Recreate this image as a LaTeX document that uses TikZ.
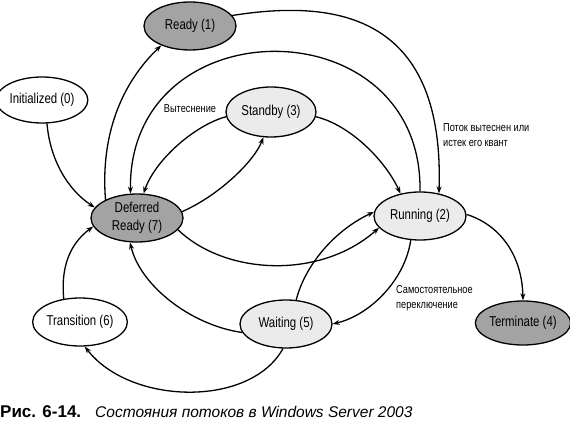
\documentclass[tikz,border=0pt]{standalone}
\usepackage{fontspec}
\setmainfont{Liberation Sans}
\newfontfamily\nar[FakeStretch=0.8]{Liberation Sans}
\usetikzlibrary{shapes.geometric,arrows.meta}
\definecolor{darkfill}{gray}{0.64}
\definecolor{lightfill}{gray}{0.92}
\tikzset{
  st/.style={ellipse,draw=black,line width=1.3pt,inner sep=0pt,minimum width=92pt,minimum height=48pt,font=\nar\fontsize{14.3pt}{18pt}\selectfont,align=center},
  dk/.style={st,fill=darkfill},
  lt/.style={st,fill=lightfill},
  wh/.style={st,fill=white},
  arr/.style={line width=1.3pt,-{Stealth[length=7pt,width=5pt]}},
  lbl/.style={font=\nar\fontsize{11.5pt}{14.5pt}\selectfont,align=left,inner sep=0pt}
}
\begin{document}
\begin{tikzpicture}[x=1pt,y=-1pt]
\useasboundingbox (0,0) rectangle (570,430);
% nodes
\node[wh,minimum width=82pt,minimum height=46pt] (I) at (42,100) {Initialized (0)};
\node[dk,minimum height=48pt] (R1) at (190,26) {Ready (1)};
\node[lt,minimum width=90pt,minimum height=50pt] (S) at (271,112) {Standby (3)};
\node[dk] (D) at (137,218) {Deferred\\Ready (7)};
\node[lt] (Rn) at (420,216) {Running (2)};
\node[wh] (T) at (80,322) {Transition (6)};
\node[lt] (W) at (286,324) {Waiting (5)};
\node[dk,minimum height=44pt] (Tm) at (523,323) {Terminate (4)};
% connectors
\draw[arr] (I.282) .. controls (50,160) and (68,190) .. (D.166);
\draw[arr] (D.150) .. controls (100,130) and (125,80) .. (R1.214);
\draw[arr] (R1.14) .. controls (330,0) and (445,10) .. (Rn.50);
\draw[arr] (Rn.90) .. controls (423,5) and (128,5) .. (D.105);
\draw[arr] (S.186) .. controls (195,125) and (155,160) .. (D.75);
\draw[arr] (D.8) .. controls (220,195) and (255,160) .. (S.253);
\draw[arr] (S.354) .. controls (350,125) and (385,160) .. (Rn.131);
\draw[arr] (D.344) .. controls (225,275) and (320,280) .. (Rn.196);
\draw[arr] (W.67) .. controls (305,265) and (335,230) .. (Rn.175);
\draw[arr] (Rn.249) .. controls (405,280) and (370,315) .. (W.0);
\draw[arr] (W.191) .. controls (190,325) and (140,285) .. (D.254);
\draw[arr] (W.263) .. controls (250,408) and (130,405) .. (T.281);
\draw[arr] (T.125) .. controls (60,260) and (75,240) .. (D.191);
\draw[arr] (Rn.2) .. controls (500,225) and (522,255) .. (Tm.90);
% labels
\node[lbl] (l1) at (190,109) {Вытеснение};
\node[lbl,anchor=west] (l2) at (443,135) {Поток вытеснен или\\истек его квант};
\node[lbl,anchor=west] (l3) at (396,298) {Самостоятельное\\переключение};
% caption
\node[anchor=base west,inner sep=0pt,font=\bfseries\fontsize{17pt}{19pt}\selectfont] (c1) at (0,417) {Рис. 6-14.};
\node[anchor=base west,inner sep=0pt,font=\itshape\fontsize{15.5pt}{18pt}\selectfont] (c2) at (95,417) {Состояния потоков в Windows Server 2003};
\end{tikzpicture}
\end{document}
